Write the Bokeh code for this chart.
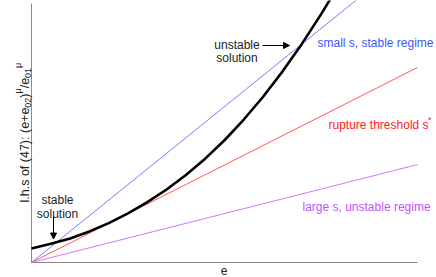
from bokeh.plotting import figure
from bokeh.models import Range1d, Label, Arrow, NormalHead
from bokeh.embed import file_html
from bokeh.resources import INLINE

# ---- data ----
e_vals = [0.0, 0.05, 0.10, 0.15, 0.20, 0.25, 0.30, 0.35, 0.40, 0.45, 0.50,
          0.55, 0.60, 0.65, 0.70, 0.75, 0.80]
lhs_vals = [0.054, 0.072, 0.093, 0.120, 0.152, 0.190, 0.233, 0.282, 0.338,
            0.401, 0.472, 0.552, 0.640, 0.737, 0.843, 0.958, 1.080]
line_e = [0.0, 1.0]
small_s_vals = [0.0, 1.204]
threshold_vals = [0.0, 0.753]
large_s_vals = [0.0, 0.378]
axis_x_end = 1.0
axis_y_end = 1.0

BLUE_L, BLUE_T = "#7080ff", "#3a58ff"
RED_L, RED_T = "#ff5a5a", "#ff2020"
PUR_L, PUR_T = "#cf78ff", "#bf55ff"
AXIS_C = "#8a8a8a"
FONT = "Liberation Sans"

# page-pixel -> data helpers (axes origin at page px (31, 262); 386 px and 259 px per unit)
X0, Y0, SX, SY = 31.0, 262.0, 386.0, 259.0
def fx(px):
    return (px - X0) / SX
def fy(py):
    return (Y0 - py) / SY

W, H = 436, 277  # the page template has no body margin: canvas fills the window
p = figure(width=W, height=H, output_backend="svg", toolbar_location=None,
           x_range=Range1d(fx(0), fx(W)), y_range=Range1d(fy(H), fy(0)),
           x_axis_location=None, y_axis_location=None,
           min_border=0, min_border_left=0, min_border_right=0,
           min_border_top=0, min_border_bottom=0)
p.outline_line_color = None
p.grid.visible = False
p.background_fill_color = "white"
p.border_fill_color = "white"

# axis lines
p.line([0.0, axis_x_end], [0.0, 0.0], color=AXIS_C, line_width=1)
p.line([0.0, 0.0], [0.0, axis_y_end], color=AXIS_C, line_width=1)

p.line(line_e, small_s_vals, color=BLUE_L, line_width=1)
p.line(line_e, threshold_vals, color=RED_L, line_width=1)
p.line(line_e, large_s_vals, color=PUR_L, line_width=1)
p.line(e_vals, lhs_vals, color="black", line_width=2.6, line_join="round")

def lab(px, py, text, size=12, color="#222222", align="left", angle=0.0):
    p.add_layout(Label(x=fx(px), y=fy(py), text=text, text_font=FONT,
                       text_font_size=f"{size}px", text_color=color,
                       text_align=align, text_baseline="alphabetic",
                       angle=angle))

lab(57, 199.3, "stable", align="center")
lab(57, 213.5, "solution", align="center")
lab(236.5, 44, "unstable", align="center")
lab(236.5, 57.3, "solution", align="center")
lab(317, 42, "small s, stable regime", color=BLUE_T)
lab(328, 124.5, "rupture threshold s", color=RED_T)
lab(427.5, 119, "*", size=9, color=RED_T)
lab(302, 206.5, "large s, unstable regime", color=PUR_T)
lab(223.5, 270, "e", align="center")

# rotated y-axis label with sub/superscripts
A = 1.5707963
lab(24.5, 202.0, "l.h.s of (47): (e+e", size=12.5, angle=A)
lab(27.5, 107.2, "02", size=9, angle=A)
lab(24.5, 97.2, ")", size=12.5, angle=A)
lab(17.5, 93.0, "\u03bc", size=9, angle=A)
lab(24.5, 87.8, "/e", size=12.5, angle=A)
lab(27.5, 77.4, "01", size=9, angle=A)
lab(17.5, 67.4, "\u03bc", size=9, angle=A)

p.add_layout(Arrow(end=NormalHead(size=6, fill_color="black", line_color="black"),
                   x_start=fx(53), y_start=fy(216), x_end=fx(53), y_end=fy(238.5),
                   line_color="black", line_width=1))
p.add_layout(Arrow(end=NormalHead(size=6, fill_color="black", line_color="black"),
                   x_start=fx(262), y_start=fy(45), x_end=fx(289), y_end=fy(45),
                   line_color="black", line_width=1))

open("out.html", "w").write(file_html(p, INLINE))
